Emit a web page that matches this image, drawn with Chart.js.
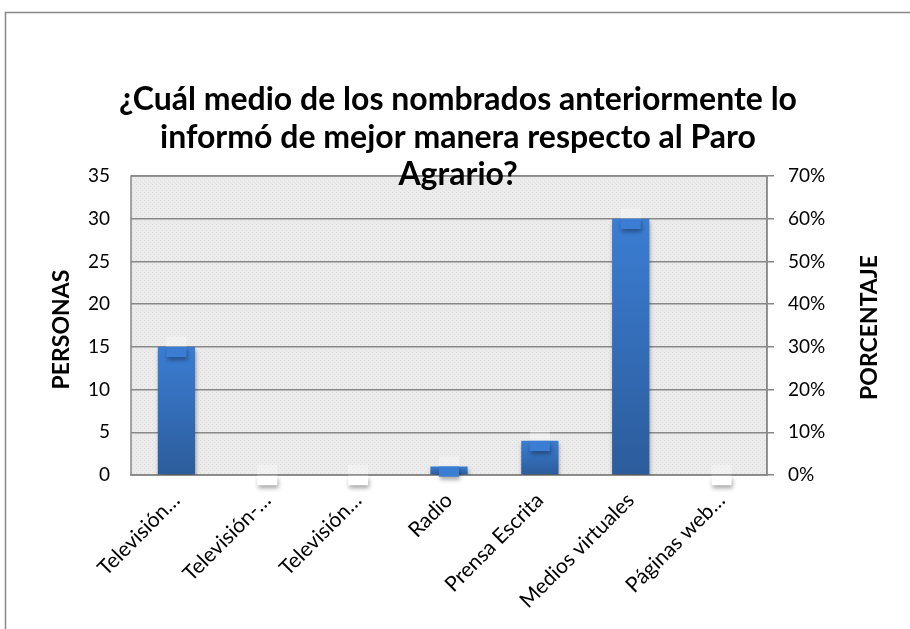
<!DOCTYPE html>
<html lang="es">
<head>
    <meta charset="UTF-8">
    <title>Paro Agrario</title>
    <script src="https://cdn.jsdelivr.net/npm/chart.js"></script>
    <style>
        html, body { margin: 0; padding: 0; background: #fff; }
        #wrap { width: 910px; height: 629px; }
    </style>
</head>
<body>
<div id="wrap"><canvas id="grafico" width="910" height="629"></canvas></div>
<script>
    // datos
    const categorias = ['Televisión…', 'Televisión-…', 'Televisión…', 'Radio', 'Prensa Escrita', 'Medios virtuales', 'Páginas web…'];
    const personas = [15, 0, 0, 1, 4, 30, 0];
    const porcentaje = [30, 0, 0, 2, 8, 60, 0];
    const tituloLineas = ['¿Cuál medio de los nombrados anteriormente lo', 'informó de mejor manera respecto al Paro', 'Agrario?'];

    const FUENTE = 'Lato, "Open Sans", sans-serif';
    const GRIS = '#888888';
    const MARCA = 2.4; // alto del marcador en % del eje derecho

    // fondo punteado del area de trazado
    const pat = document.createElement('canvas');
    pat.width = 4; pat.height = 4;
    const pc = pat.getContext('2d');
    pc.fillStyle = '#ebebeb'; pc.fillRect(0, 0, 4, 4);
    pc.fillStyle = '#dedede';
    pc.fillRect(0, 0, 1, 1); pc.fillRect(2, 2, 1, 1);

    const fondo = {
        id: 'fondo',
        beforeDraw(chart) {
            const { ctx, chartArea: a } = chart;
            ctx.save();
            ctx.strokeStyle = GRIS;
            ctx.lineWidth = 1.5;
            ctx.strokeRect(5.5, 12.5, 2000, 2000);
            ctx.fillStyle = ctx.createPattern(pat, 'repeat');
            ctx.fillRect(a.left, a.top, a.right - a.left, a.bottom - a.top);
            ctx.strokeRect(a.left, a.top, a.right - a.left, a.bottom - a.top);
            ctx.restore();
        }
    };

    const sombra = {
        id: 'sombra',
        beforeDatasetDraw(chart, args) {
            const ctx = chart.ctx;
            ctx.save();
            if (args.index !== 1) {
                ctx.shadowColor = 'rgba(0,0,0,0.35)';
                ctx.shadowBlur = 4;
                ctx.shadowOffsetX = 1;
                ctx.shadowOffsetY = 3;
            }
        },
        afterDatasetDraw(chart) {
            chart.ctx.restore();
        }
    };

    const textos = {
        id: 'textos',
        afterDraw(chart) {
            const { ctx, chartArea: a } = chart;
            ctx.save();
            ctx.fillStyle = '#000';
            ctx.textAlign = 'center';
            ctx.textBaseline = 'middle';
            ctx.font = 'bold 32px ' + FUENTE;
            tituloLineas.forEach((t, i) => ctx.fillText(t, 458, 100 + i * 37.5));

            ctx.font = 'bold 23px ' + FUENTE;
            const mid = (a.top + a.bottom) / 2 + 4;
            ctx.translate(62, mid);
            ctx.rotate(-Math.PI / 2);
            ctx.fillText('PERSONAS', 0, 0);
            ctx.rotate(Math.PI / 2);
            ctx.translate(870 - 62, -2);
            ctx.rotate(-Math.PI / 2);
            ctx.fillText('PORCENTAJE', 0, 0);
            ctx.restore();
        }
    };

    function degradado(c) {
        const chart = c.chart;
        if (!chart.chartArea || c.parsed === undefined) return '#3470bd';
        const y = chart.scales.y;
        const top = y.getPixelForValue(c.parsed.y);
        const bottom = y.getPixelForValue(0);
        if (bottom - top < 1) return '#3470bd';
        const g = chart.ctx.createLinearGradient(0, top, 0, bottom);
        g.addColorStop(0, '#3b7dd3');
        g.addColorStop(1, '#2c5c9b');
        return g;
    }

    new Chart(document.getElementById('grafico'), {
        type: 'bar',
        data: {
            labels: categorias,
            datasets: [
                {
                    label: 'Porcentaje',
                    data: porcentaje.map(v => [v - MARCA, v]),
                    yAxisID: 'y2',
                    backgroundColor: porcentaje.map(v => v > 0 ? '#3b7dd3' : '#ffffff'),
                    grouped: false,
                    barPercentage: 0.22,
                    categoryPercentage: 1,
                    clip: false,
                    order: 0
                },
                {
                    label: 'Porcentaje brillo',
                    data: porcentaje.map(v => [v, v + MARCA]),
                    yAxisID: 'y2',
                    backgroundColor: 'rgba(255,255,255,0.35)',
                    grouped: false,
                    barPercentage: 0.22,
                    categoryPercentage: 1,
                    clip: false,
                    order: 1
                },
                {
                    label: 'Personas',
                    data: personas,
                    yAxisID: 'y',
                    backgroundColor: degradado,
                    grouped: false,
                    barPercentage: 0.41,
                    categoryPercentage: 1,
                    order: 2
                }
            ]
        },
        options: {
            responsive: false,
            animation: false,
            layout: { padding: { top: 176, left: 0, right: 0, bottom: 0 } },
            plugins: {
                legend: { display: false },
                tooltip: { enabled: false }
            },
            scales: {
                x: {
                    grid: { display: false, drawTicks: false },
                    border: { display: true, color: GRIS, width: 1.5 },
                    ticks: {
                        autoSkip: false,
                        minRotation: 45,
                        maxRotation: 45,
                        padding: 13,
                        color: '#000',
                        font: { family: FUENTE, size: 21 }
                    },
                    afterFit(s) { s.height = 154; }
                },
                y: {
                    position: 'left',
                    min: 0,
                    max: 35,
                    grid: { color: GRIS, lineWidth: 1.5, drawTicks: false },
                    border: { display: false },
                    ticks: {
                        stepSize: 5,
                        padding: 21,
                        color: '#000',
                        font: { family: FUENTE, size: 19 }
                    },
                    afterFit(s) { s.width = 131; }
                },
                y2: {
                    position: 'right',
                    min: 0,
                    max: 70,
                    grid: { drawOnChartArea: false, drawTicks: true, tickLength: 7, color: GRIS, lineWidth: 1.5 },
                    border: { display: true, color: GRIS, width: 1.5 },
                    ticks: {
                        stepSize: 10,
                        padding: 14,
                        color: '#000',
                        font: { family: FUENTE, size: 19 },
                        callback: v => v + '%'
                    },
                    afterFit(s) { s.width = 143; }
                }
            }
        },
        plugins: [fondo, sombra, textos]
    });
</script>
</body>
</html>
